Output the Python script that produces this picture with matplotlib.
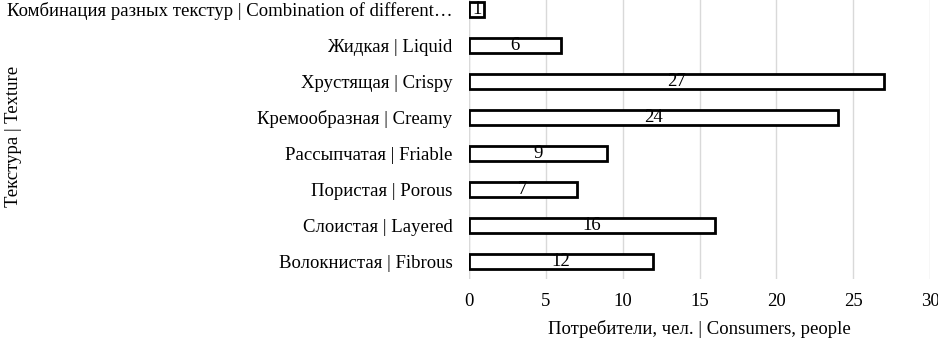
import numpy as np
import matplotlib.pyplot as plt

plt.rcParams['font.family'] = ['Liberation Serif', 'DejaVu Serif']

categories = ['Волокнистая | Fibrous', 'Слоистая | Layered', 'Пористая | Porous',
              'Рассыпчатая | Friable', 'Кремообразная | Creamy', 'Хрустящая | Crispy',
              'Жидкая | Liquid', 'Комбинация разных текстур | Combination of different…']
values = [12, 16, 7, 9, 24, 27, 6, 1]
xticks = [0, 5, 10, 15, 20, 25, 30]

fs = 13.5
fig = plt.figure(figsize=(9.38, 3.4), dpi=100)
ax = fig.add_axes([0.5, 0.179, 0.4915, 0.847])

y = np.arange(len(categories))
bars = ax.barh(y, values, height=0.42, color='white', edgecolor='black', linewidth=2, zorder=3)
for b, v in zip(bars, values):
    ax.text(v / 2, b.get_y() + b.get_height() / 2, str(v), ha='center', va='center',
            fontsize=fs, zorder=4)

ax.set_yticks(y)
ax.set_yticklabels(categories, fontsize=fs)
ax.set_xticks(xticks)
ax.set_xticklabels([str(t) for t in xticks], fontsize=fs)
ax.set_xlim(0, 30)
ax.set_ylim(-0.5, len(categories) - 0.5)
ax.grid(axis='x', color='#d9d9d9', linewidth=1, zorder=0)
for s in ax.spines.values():
    s.set_visible(False)
ax.axvline(0, color='#d9d9d9', linewidth=1, zorder=1)
ax.tick_params(axis='y', length=0, pad=12)
ax.tick_params(axis='x', length=0, pad=10)
ax.set_xlabel('Потребители, чел. | Consumers, people', fontsize=fs, labelpad=7)
fig.text(0.014, 0.60, 'Текстура | Texture', rotation=90, ha='center', va='center', fontsize=fs)

fig.savefig('out.png', dpi=100)
